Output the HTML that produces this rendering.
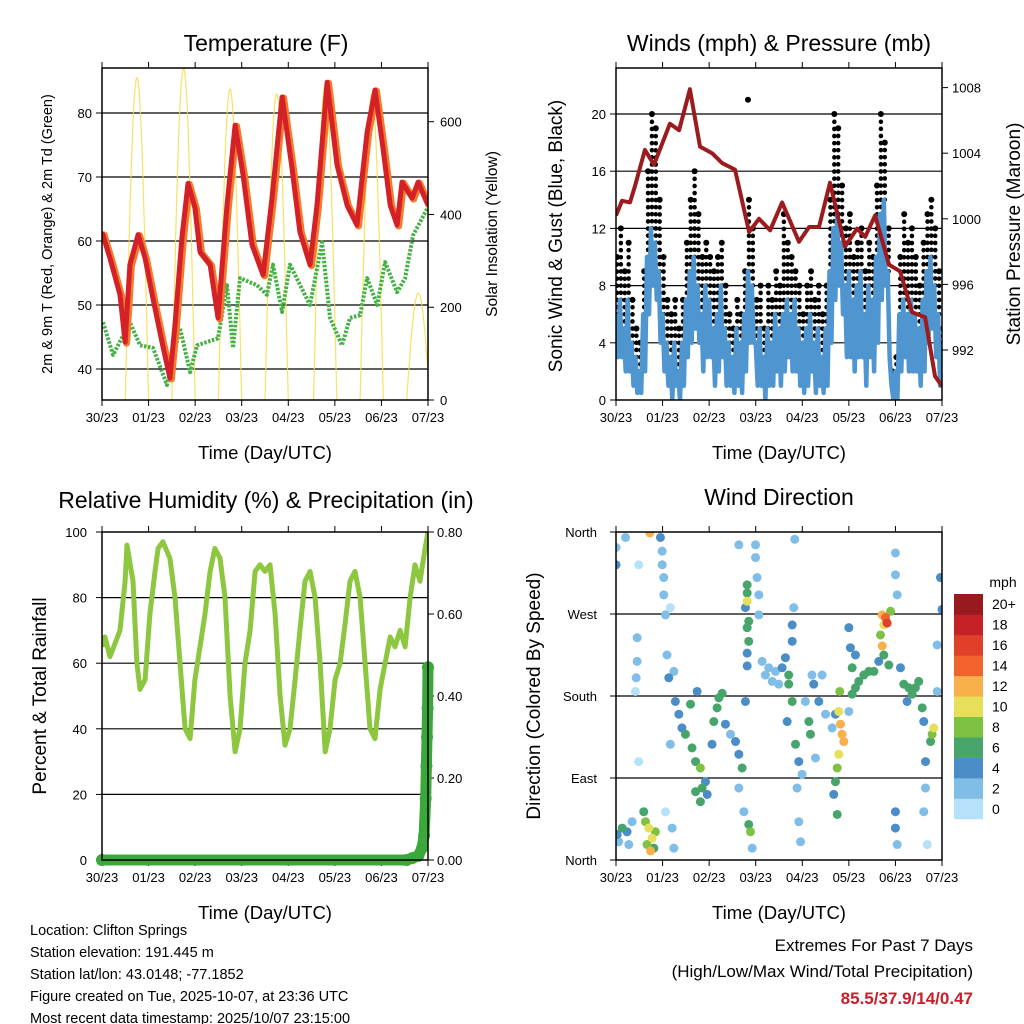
<!DOCTYPE html>
<html><head><meta charset="utf-8"><style>
html,body{margin:0;padding:0;background:#fff;}
svg{display:block;font-family:"Liberation Sans",sans-serif;}
</style></head><body>
<svg id="fig" width="1024" height="1024" viewBox="0 0 1024 1024" xmlns="http://www.w3.org/2000/svg">
<defs>
<clipPath id="c1"><rect x="102" y="68" width="326" height="332"/></clipPath>
<clipPath id="c2"><rect x="616" y="68" width="326" height="332"/></clipPath>
<clipPath id="c3"><rect x="102" y="532" width="326" height="328"/></clipPath>
<clipPath id="c4"><rect x="616" y="532" width="326" height="328"/></clipPath>
</defs>
<g id="p1"></g>
<g id="p2"></g>
<g id="p3"></g>
<g id="p4"></g>
<g font-size="14.5" fill="#000">
<text x="30" y="935">Location: Clifton Springs</text>
<text x="30" y="957">Station elevation: 191.445 m</text>
<text x="30" y="979">Station lat/lon: 43.0148; -77.1852</text>
<text x="30" y="1001">Figure created on Tue, 2025-10-07, at 23:36 UTC</text>
<text x="30" y="1023">Most recent data timestamp: 2025/10/07 23:15:00</text>
</g>
<g text-anchor="end">
<text x="973" y="951" font-size="17">Extremes For Past 7 Days</text>
<text x="973" y="977" font-size="17">(High/Low/Max Wind/Total Precipitation)</text>
<text x="973" y="1004" font-size="17" font-weight="bold" fill="#c8202a">85.5/37.9/14/0.47</text>
</g>
</svg>
<script>
// ---------- DATA ----------
const dayLabels = ["30/23","01/23","02/23","03/23","04/23","05/23","06/23","07/23"];
const tempHours = [0,4.1,9.3,11.9,14.4,18.6,22.2,26.3,30.9,35,37.6,41.2,44.3,47.9,50.5,55.7,59.8,64.4,68.6,72.7,77.3,83,87.6,92.8,97.9,102,107.2,110.8,116,121.1,126.3,131.4,136.6,140.7,144.8,148.5,152.1,154.6,159.8,162.9,168];
const tempValues = [61.4,57.3,51.6,44.2,56.3,61,57.3,51,44.2,38.6,46.9,60.5,69,65.2,58.3,56.3,48,65.6,78.1,70.3,59.4,54.7,66.7,82.5,71.4,61.4,56.3,65.6,84.8,71.9,65.6,62.5,77,83.6,74.5,65.6,62.5,69.2,66.7,69.2,65.6];
const dewHours = [0.5,5.7,14.4,19.6,26.3,33.5,40.2,45.4,49,59.8,64.4,67.5,71.1,79.9,85,88.1,92.8,96.9,107.2,113.4,117.5,123.7,127.8,133,136.6,141.8,145.9,152.1,156.2,160.3,168];
const dewValues = [47.3,42.2,47.3,43.7,43.3,37.5,46.4,39.5,43.7,44.8,53.1,43.3,54.2,53.1,51.6,56.3,48.9,56.3,50,59.8,48,43.7,48,48.4,54.2,50,56.7,52,54.2,60.9,65.3];
const solarPeakHours = [18,42,66,90,115,139,163];
const solarPeakValues = [695,715,670,660,680,660,230];

const windHours2h = []; for (let h=0; h<=168; h+=2) windHours2h.push(h);
const windHigh = [6,7,5,7,4,3, 2,6,10,12,11,9, 6,4,3,4,2,4, 7,9,10,8,6,8, 7,5,6,8,5,4, 3,5,4,6,9,8, 4,5,3,5,4,6, 5,6,7,6,7,5, 4,5,6,4,5,3, 5,9,12,13,11,8, 9,7,8,9,6,8, 7,10,13,14,9,1, 2,6,7,6,7,6, 5,7,9,10,8,6, 3];
const windLow = [3,3,2,2,1,0.5, 0.5,2,6,8,7,4, 2,1,0,1,0,1, 3,4,5,4,2,3, 3,1,2,3,1,1, 0.5,1,0.5,2,4,4, 1,1,0,1,1,2, 1,2,3,2,2,1, 0.5,1,2,0.5,1,0.5, 1,4,7,8,6,3, 3,2,3,3,1,3, 2,4,7,8,3,0, 0,2,3,2,2,2, 1,2,4,5,3,1, 0.5];
const gustValues = [10,12,9,11,7,5, 4,9,16,20,19,14, 10,7,6,7,5,7, 11,14,16,13,10,11, 10,9,10,11,8,6, 5,7,6,9,14,12, 7,8,5,8,7,9, 8,13,11,10,9,8, 6,8,9,7,8,6, 8,14,20,19,15,12, 13,10,11,12,9,11, 10,15,20,18,12,2, 3,10,13,11,12,10, 8,11,13,14,12,9, 5];
const gustOutlierHours = [68];
const gustOutlierValues = [21];
const pressHours = [0,3.1,7.2,9.8,14.9,19.6,27.8,32.5,38.1,43.3,49.5,54.6,61.3,68.6,73.7,79.4,85.6,94.3,99.5,104.6,110.3,118,124.2,128.4,133.5,140.7,146.4,152.6,159.3,164.4,168];
const pressValues = [1000.2,1001.1,1001,1002,1004.2,1003.3,1005.8,1005.4,1007.9,1004.4,1004,1003.4,1003,999.2,1000,999.3,1001,998.6,999.5,999.5,1002.2,998.3,999.4,998.9,1000.2,997.2,996.8,994.3,994,990.4,989.8];

const rhHours = [0,1.5,4.1,9.3,11.9,12.9,16,18,19.6,22.2,24.7,27.3,28.9,31.4,35,37.6,40.2,42.8,45.4,47.9,50.5,53.1,55.7,58.2,60.8,63.4,66,68.6,71.1,73.7,76.3,78.9,81.4,84,86.6,89.2,91.8,94.3,96.9,99.5,102,104.6,107.2,109.8,112.4,115,117.5,120.1,122.7,125.3,127.8,130.4,133,135.6,138.1,140.7,143.3,145.9,148.5,151,153.6,156.2,158.8,161.3,163.9,166.5,168];
const rhValues = [65,68,62,70,85,96,85,60,52,55,75,88,95,97,92,80,60,40,37,55,65,75,88,95,92,80,50,33,40,60,70,88,90,88,90,75,50,35,40,55,70,85,88,80,60,33,40,55,60,72,85,88,80,60,40,37,52,60,68,65,70,65,80,90,85,95,100];
const precipHours = [0,157,160,163,165,166,166.8,167.2,167.5,167.8,168];
const precipValues = [0,0,0.005,0.01,0.03,0.06,0.15,0.23,0.3,0.37,0.47];

const dirHours = [0.6,3.2,5.7,1.4,6.6,8.3,0,0,4.9,14.3,15.2,16.9,18.6,16,17.8,20.3,19.5,10.9,10.9,10.4,10,11.7,11.7,22.9,23.8,23.8,24.6,24.6,25.5,26.3,27.2,29.8,30.6,32.4,28,28,25.5,28.9,29.8,34,35.8,39.2,41,43.5,38.4,41.8,44.4,46.1,47,49.5,50.4,52.1,53,54.7,41,43.5,56.4,59,61.6,63.3,65,63.3,65.9,66.7,67.6,67.6,67.6,66.7,68.4,67.6,68.4,67.6,67.6,68.4,69.3,70.2,71.9,72.7,73.6,73.6,71.9,63.3,75.3,78.7,82.2,80.5,85.6,87.3,89,77,83.9,90.8,90.8,91.6,89,90.8,88.2,92.5,94.2,95.9,93.3,94.2,95.1,92.1,97.6,99.4,100.2,101.9,102.8,104.5,106.2,108,101,111.4,113.1,114.8,115.7,116.5,117.4,114.8,114,113.1,114,112.2,115.3,120,120.8,121.7,121.7,123.4,125.1,127.7,130.3,132.9,123.4,120,137.2,138,138.9,139.7,136.3,137.2,138,140.6,141.5,135.4,144,144,144.9,144,144,144.9,146.6,148.3,150.9,152.6,154.3,156,157.8,150,158.6,159.5,159.5,158.6,160.4,162.9,163.8,162.1,165.5,167.2,168,165.5,17.4];
const dirDegrees = [28,35,31,20,17,42,343,324,354,53,42,35,24,17,10,31,13,244,218,200,185,108,324,354,339,324,310,291,269,225,200,207,174,160,277,127,53,35,13,145,138,123,108,101,171,185,79,86,72,127,152,167,178,183,75,64,149,138,130,116,101,79,53,174,302,293,284,277,262,255,240,227,213,39,31,13,332,310,291,269,346,346,218,211,207,196,211,222,203,203,193,240,258,277,193,174,152,127,108,94,79,42,20,352,174,152,138,193,112,174,203,160,203,145,160,163,149,138,130,116,101,86,50,72,185,255,233,211,182,189,196,203,207,207,225,163,269,258,266,260,247,235,225,214,273,218,337,313,291,53,35,17,211,193,189,182,189,196,167,174,152,108,79,53,17,138,145,130,185,310,275,236,359];
const dirSpeeds = [4,6,4,3,2,2,3,4,2,6,8,10,10,8,12,8,6,2,2,2,1,1,1,4,2,3,2,2,2,3,4,3,4,4,1,3,1,2,2,4,6,7,6,8,7,4,6,4,4,4,6,7,6,6,6,7,4,3,4,4,6,3,3,4,6,6,10,4,6,7,6,4,4,6,8,3,2,2,2,2,2,2,2,2,2,3,4,4,6,2,2,4,4,2,6,6,4,6,4,3,2,3,3,2,3,7,6,4,3,4,2,3,2,2,4,10,12,12,12,10,8,7,7,4,8,4,4,6,6,6,6,6,7,6,4,3,12,10,14,16,8,12,6,7,8,4,2,2,2,4,4,2,4,7,6,6,6,6,6,4,4,4,3,3,1,8,10,6,3,4,4,2,13];
const speedColors = ["#b5e2f8","#80bde7","#4a8dc7","#47a56b","#7dc243","#e7df5a","#f7b04a","#f0632c","#e0402a","#c52228","#961a1e"];
const speedLabels = ["0","2","4","6","8","10","12","14","16","18","20+"];

// ---------- HELPERS ----------
const NS = "http://www.w3.org/2000/svg";
function mk(parent, tag, attrs, txt){
  const e = document.createElementNS(NS, tag);
  for (const k in attrs) e.setAttribute(k, attrs[k]);
  if (txt !== undefined) e.textContent = txt;
  parent.appendChild(e); return e;
}
function polyPts(xs, ys, fx, fy){ return xs.map((h,i)=>fx(h).toFixed(1)+","+fy(ys[i]).toFixed(1)).join(" "); }

function frame(g, x0, y0, w, h, title, tx, ty, xlab){
  const t = mk(g,"text",{x:tx,y:ty,"font-size":23,"text-anchor":"middle"},title);
  
  
  const xl = mk(g,"text",{x:x0+w/2,y:y0+h+59,"font-size":18.5,"text-anchor":"middle"},xlab);
  
  
  for (let d=0; d<dayLabels.length; d++){
    const x = x0 + d*w/7;
    mk(g,"line",{x1:x,y1:y0+h,x2:x,y2:y0+h+6,stroke:"#000","stroke-width":1});
    mk(g,"line",{x1:x,y1:y0,x2:x,y2:y0-6,stroke:"#000","stroke-width":1});
    const lb = mk(g,"text",{x:x,y:y0+h+22,"font-size":13,"text-anchor":"middle"},dayLabels[d]);
    
    
  }
}
function border(g,x0,y0,w,h){
  const r = mk(g,"rect",{x:x0,y:y0,width:w,height:h,fill:"none",stroke:"#000","stroke-width":1.5});
  
  
}
function hgrid(g,x0,w,y){ mk(g,"line",{x1:x0,y1:y,x2:x0+w,y2:y,stroke:"#000","stroke-width":1.2}); }
function ytick(g,x,y,side,label,anchorX,fs){
  mk(g,"line",{x1:x,y1:y,x2:x+(side<0?-6:6),y2:y,stroke:"#000","stroke-width":1});
  const t = mk(g,"text",{x:anchorX,y:y+5,"font-size":fs||13,"text-anchor":side<0?"end":"start"},label);
  
  
}
function vtitle(g,x,y,txt,fs,name){
  const t = mk(g,"text",{x:x,y:y,"font-size":fs,"text-anchor":"middle",transform:"rotate(-90 "+x+" "+y+")"},txt);
  
  
}

// ---------- PANEL 1: TEMPERATURE ----------
(function(){
  const g = document.getElementById("p1");
  const X0=102,W=326,Y0=68,H=332;
  const fx = h => X0 + h*W/168;
  const fy = t => 369 - (t-40)*6.4;
  const fs = s => 400 - s*0.4638;
  frame(g,X0,Y0,W,H,"Temperature (F)",266,51,"Time (Day/UTC)");
  [40,50,60,70,80].forEach(v=>{ hgrid(g,X0,W,fy(v)); ytick(g,X0,fy(v),-1,String(v),92); });
  [0,200,400,600].forEach(v=>{ ytick(g,X0+W,fs(v),1,String(v),440); });
  vtitle(g,52,234,"2m & 9m T (Red, Orange) & 2m Td (Green)",14.5,"left-y-axis-title");
  vtitle(g,497,234,"Solar Insolation (Yellow)",15.5,"right-y-axis-title");
  const c = mk(g,"g",{"clip-path":"url(#c1)"});
  solarPeakHours.forEach((ph,i)=>{
    const pts=[];
    for (let k=-6;k<=6;k+=0.25){ pts.push(fx(ph+k).toFixed(1)+","+fs(solarPeakValues[i]*Math.cos(k/6*Math.PI/2)).toFixed(1)); }
    const s = mk(c,"polyline",{points:pts.join(" "),fill:"none",stroke:"#f7dc4a","stroke-width":1.2,opacity:0.85});
    
    
  });
  const d = mk(c,"polyline",{points:polyPts(dewHours,dewValues,fx,fy),fill:"none",stroke:"#45b046","stroke-width":4,"stroke-dasharray":"2.5 1.5","stroke-linejoin":"round"});
  
  
  const o = mk(c,"polyline",{points:polyPts(tempHours,tempValues,fx,fy),fill:"none",stroke:"#f47b2c","stroke-width":7,"stroke-linejoin":"round",transform:"translate(1.5,1)"});
  
  
  const r = mk(c,"polyline",{points:polyPts(tempHours,tempValues,fx,fy),fill:"none",stroke:"#d42027","stroke-width":5,"stroke-linejoin":"round"});
  
  
  border(g,X0,Y0,W,H);
})();

// ---------- PANEL 2: WINDS & PRESSURE ----------
(function(){
  const g = document.getElementById("p2");
  const X0=616,W=326,Y0=68,H=332;
  const fx = h => X0 + h*W/168;
  const fy = w => 400 - w*14.3;
  const fp = p => 350 - (p-992)*16.4;
  frame(g,X0,Y0,W,H,"Winds (mph) & Pressure (mb)",779,51,"Time (Day/UTC)");
  [0,4,8,12,16,20].forEach(v=>{ if(v>0) hgrid(g,X0,W,fy(v)); ytick(g,X0,fy(v),-1,String(v),606); });
  [992,996,1000,1004,1008].forEach(v=>{ ytick(g,X0+W,fp(v),1,String(v),952); });
  vtitle(g,562,236,"Sonic Wind & Gust (Blue, Black)",19,"left-y-axis-title");
  vtitle(g,1020,234,"Station Pressure (Maroon)",19,"right-y-axis-title");
  const c = mk(g,"g",{"clip-path":"url(#c2)"});
  windHours2h.forEach((h,i)=>{
    const s = mk(c,"line",{x1:fx(h)+1,y1:fy(windHigh[i]),x2:fx(h)+1,y2:fy(gustValues[i]),stroke:"#000","stroke-width":4.5,"stroke-dasharray":"0.1 7","stroke-linecap":"round"});
    
    
    const dt = mk(c,"circle",{cx:fx(h)+1,cy:fy(gustValues[i]),r:3,fill:"#000"});
    
    
  });
  gustOutlierHours.forEach((h,i)=>{
    const dt = mk(c,"circle",{cx:fx(h),cy:fy(gustOutlierValues[i]),r:3,fill:"#000"});
    
    
  });
  const pts=[];
  windHours2h.forEach((h,i)=>{ pts.push(fx(h).toFixed(1)+","+fy(windHigh[i]).toFixed(1)); if(i<windHours2h.length-1) pts.push(fx(h+1).toFixed(1)+","+fy(windLow[i]).toFixed(1)); });
  const b = mk(c,"polyline",{points:pts.join(" "),fill:"none",stroke:"#4f95d0","stroke-width":4.5,"stroke-linejoin":"round"});
  
  
  const p = mk(c,"polyline",{points:polyPts(pressHours,pressValues,fx,fp),fill:"none",stroke:"#9b1b1e","stroke-width":4,"stroke-linejoin":"round"});
  
  
  border(g,X0,Y0,W,H);
})();

// ---------- PANEL 3: RH & PRECIP ----------
(function(){
  const g = document.getElementById("p3");
  const X0=102,W=326,Y0=532,H=328;
  const fx = h => X0 + h*W/168;
  const fy = v => 860 - v*3.28;
  const fp = p => 860 - p*410;
  frame(g,X0,Y0,W,H,"Relative Humidity (%) & Precipitation (in)",266,508,"Time (Day/UTC)");
  [0,20,40,60,80,100].forEach(v=>{ if(v>0&&v<100) hgrid(g,X0,W,fy(v)); ytick(g,X0,fy(v),-1,String(v),87); });
  [0,0.2,0.4,0.6,0.8].forEach(v=>{ ytick(g,X0+W,fp(v),1,v.toFixed(2),437); });
  vtitle(g,46,696,"Percent & Total Rainfall",19,"left-y-axis-title");
  const c = mk(g,"g",{"clip-path":"url(#c3)"});
  const rl = mk(c,"polyline",{points:polyPts(rhHours,rhValues,fx,fy),fill:"none",stroke:"#8dc63f","stroke-width":5,"stroke-linejoin":"round"});
  
  
  const pl = mk(g,"polyline",{points:polyPts(precipHours,precipValues,fx,fp),fill:"none",stroke:"#3aa83a","stroke-width":11,"stroke-linecap":"round","stroke-linejoin":"round"});
  
  
  precipHours.forEach((h,i)=>{
    const dt = mk(g,"circle",{cx:fx(h),cy:fp(precipValues[i]),r:6,fill:"#3aa83a"});
    
    
  });
  border(g,X0,Y0,W,H);
})();

// ---------- PANEL 4: WIND DIRECTION ----------
(function(){
  const g = document.getElementById("p4");
  const X0=616,W=326,Y0=532,H=328;
  const fx = h => X0 + h*W/168;
  const fy = d => 860 - d*328/360;
  frame(g,X0,Y0,W,H,"Wind Direction",779,505,"Time (Day/UTC)");
  const dirNames = ["North","East","South","West","North"];
  [0,90,180,270,360].forEach((v,i)=>{ if(v>0&&v<360) hgrid(g,X0,W,fy(v)); ytick(g,X0,fy(v),-1,dirNames[i],597); });
  vtitle(g,540,696,"Direction (Colored By Speed)",19,"left-y-axis-title");
  const c = mk(g,"g",{"clip-path":"url(#c4)"});
  const order = dirSpeeds.map((s,i)=>i).sort((a,b)=>dirSpeeds[a]-dirSpeeds[b]);
  order.forEach(i=>{
    const idx = Math.min(10, Math.floor(dirSpeeds[i]/2));
    const dt = mk(c,"circle",{cx:fx(dirHours[i]),cy:fy(dirDegrees[i]),r:4.5,fill:speedColors[idx]});
    
    
  });
  border(g,X0,Y0,W,H);
  const cb = mk(g,"g",{});
  
  
  const bh = 225/11;
  mk(cb,"text",{x:1003,y:587,"font-size":14,"text-anchor":"middle"},"mph");
  for (let k=0;k<11;k++){
    const y = 819 - (k+1)*bh;
    const r = mk(cb,"rect",{x:954,y:y,width:29,height:bh+0.3,fill:speedColors[k]});
    
    
    const t = mk(cb,"text",{x:992,y:y+bh/2+5,"font-size":14},speedLabels[k]);
    
    
  }
})();
</script>
</body></html>
